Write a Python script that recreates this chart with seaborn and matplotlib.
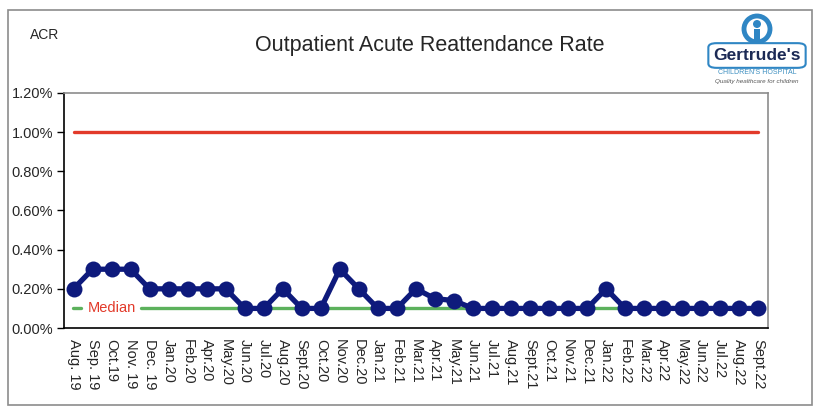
import numpy as np
import pandas as pd
import matplotlib
matplotlib.use("Agg")
import matplotlib.pyplot as plt
import seaborn as sns
from matplotlib.patches import FancyBboxPatch, Rectangle, Ellipse

months = ["Aug. 19", "Sep. 19", "Oct.19", "Nov. 19", "Dec. 19", "Jan.20", "Feb.20",
          "Apr.20", "May.20", "Jun.20", "Jul.20", "Aug.20", "Sept.20", "Oct.20",
          "Nov.20", "Dec.20", "Jan.21", "Feb.21", "Mar.21", "Apr.21", "May.21",
          "Jun.21", "Jul.21", "Aug.21", "Sept.21", "Oct.21", "Nov.21", "Dec.21",
          "Jan.22", "Feb.22", "Mar.22", "Apr.22", "May.22", "Jun.22", "Jul.22",
          "Aug.22", "Sept.22"]
rate = [0.20, 0.30, 0.30, 0.30, 0.20, 0.20, 0.20, 0.20, 0.20, 0.10, 0.10, 0.20,
        0.10, 0.10, 0.30, 0.20, 0.10, 0.10, 0.20, 0.15, 0.14, 0.10, 0.10, 0.10,
        0.10, 0.10, 0.10, 0.10, 0.20, 0.10, 0.10, 0.10, 0.10, 0.10, 0.10, 0.10,
        0.10]
target = 1.00
median = 0.10
y_ticks = [0.0, 0.2, 0.4, 0.6, 0.8, 1.0, 1.2]

df = pd.DataFrame({"month": months, "rate": rate})
df["idx"] = np.arange(len(df))

sns.set_style("white")
plt.rcParams["font.family"] = ["Liberation Sans", "DejaVu Sans"]

fig = plt.figure(figsize=(8.25, 4.2), dpi=100)
ax = fig.add_axes([0.0776, 0.219, 0.853, 0.560])

n = len(months)
# target line
ax.plot([0, n - 1], [target, target], color="#e23a2a", lw=2.4, solid_capstyle="round", zorder=2)
# median line with a gap for the label
ax.plot([-0.05, 0.37], [median, median], color="#5cb15c", lw=2.4, zorder=2)
ax.plot([3.57, n - 1], [median, median], color="#5cb15c", lw=2.4, zorder=2)
ax.text(2.0, median, "Median", color="#e23a2a", fontsize=10.5, ha="center", va="center", zorder=3)

sns.lineplot(data=df, x="idx", y="rate", ax=ax, color="#0e1a7c", lw=3.8,
             marker="o", markersize=11.5, markeredgewidth=0, zorder=4)

ax.set_xlim(-0.5, n - 0.5)
ax.set_ylim(0, 1.2)
ax.set_yticks(y_ticks)
ax.set_yticklabels([f"{v:.2f}%" for v in y_ticks], fontsize=10.5)
ax.set_xticks(np.arange(n))
ax.set_xticklabels(months, rotation=270, fontsize=10.5, va="top", ha="center")
ax.set_xticks(np.arange(n + 1) - 0.5, minor=True)
ax.tick_params(axis="x", which="major", length=0, pad=8)
ax.tick_params(axis="x", which="minor", length=5, width=1, color="black", direction="out")
ax.tick_params(axis="y", length=5, width=1, color="black", direction="out", left=True, pad=3)
ax.set_xlabel("")
ax.set_ylabel("")

for side in ["left", "bottom"]:
    ax.spines[side].set_color("black")
    ax.spines[side].set_linewidth(1.2)
for side in ["top", "right"]:
    ax.spines[side].set_color("#8c8c8c")
    ax.spines[side].set_linewidth(1.2)

# outer chart border
fig.patches.append(Rectangle((8 / 825, 15 / 420), 804 / 825, 395 / 420, transform=fig.transFigure,
                             fill=False, edgecolor="#8c8c8c", lw=1.2))

fig.text(45 / 825, 1 - 35 / 420, "ACR", fontsize=10, ha="center", va="center")
fig.text(430 / 825, 1 - 46 / 420, "Outpatient Acute Reattendance Rate", fontsize=15.5,
         ha="center", va="center")

# hospital logo
logo_blue = "#2f86c4"
fig.patches.append(Ellipse((757 / 825, 1 - 29 / 420), 26 / 825, 26 / 420, transform=fig.transFigure,
                           facecolor="white", edgecolor=logo_blue, lw=3.5))
fig.patches.append(Ellipse((757 / 825, 1 - 24 / 420), 8 / 825, 8 / 420, transform=fig.transFigure,
                           facecolor=logo_blue, edgecolor="none"))
fig.patches.append(Rectangle((754 / 825, 1 - 40 / 420), 6 / 825, 11 / 420, transform=fig.transFigure,
                             facecolor=logo_blue, edgecolor="none"))
fig.patches.append(FancyBboxPatch((710 / 825, 1 - 67 / 420), 94 / 825, 23 / 420,
                                  boxstyle="round,pad=0.002,rounding_size=0.01",
                                  transform=fig.transFigure, facecolor="white",
                                  edgecolor=logo_blue, lw=1.5))
fig.text(757 / 825, 1 - 55.5 / 420, "Gertrude's", fontsize=12.5, fontweight="bold",
         color="#1c2a55", ha="center", va="center")
fig.text(757 / 825, 1 - 73 / 420, "CHILDREN'S HOSPITAL", fontsize=5, color="#3d8fc0",
         ha="center", va="center")
fig.text(757 / 825, 1 - 82 / 420, "Quality healthcare for children", fontsize=4.5,
         style="italic", color="#555555", ha="center", va="center")

fig.savefig("out.png", dpi=100)
